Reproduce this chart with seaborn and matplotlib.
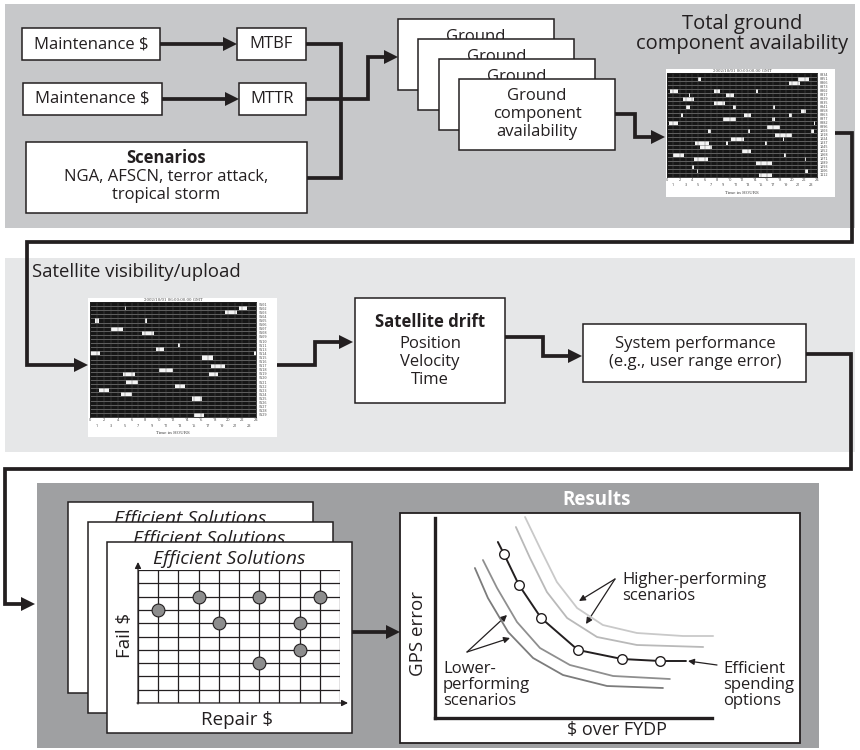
import numpy as np
import matplotlib
matplotlib.use("Agg")
import matplotlib.pyplot as plt
import seaborn as sns
from matplotlib.patches import Rectangle, Polygon
from matplotlib.colors import ListedColormap

### DATA ###
# total ground component availability: outage blocks (row, start hour, length in hours)
gnd_row = [1, 1, 2, 4, 4, 4, 5, 5, 6, 7, 8, 8, 8, 9, 10, 10, 10, 11, 11, 12, 12,
           13, 14, 14, 14, 15, 16, 16, 17, 17, 17, 18, 19, 20, 20, 21, 21, 22, 23, 24, 24, 25]
gnd_start = [5.05, 21.1, 19.4, 0.4, 7.6, 14.3, 3.6, 9.6, 2.5, 7.5, 3.1, 10.4, 16.9, 21.5,
             2.3, 12.15, 19.4, 9.1, 16.7, 0.25, 23.5, 15.95, 6.45, 12.9, 22.9, 17.3, 18.4,
             10.3, 4.55, 9.4, 15.7, 5.25, 12.0, 1.05, 18.7, 4.35, 22.1, 14.3, 4.0, 4.8, 22.0, 14.65]
gnd_len = [0.5, 1.6, 1.85, 1.3, 0.8, 0.25, 0.25, 1.05, 1.85, 1.85, 0.6, 0.6, 0.25, 0.8,
           0.25, 1.3, 0.6, 1.85, 0.6, 1.6, 0.25, 2.1, 0.6, 0.25, 0.6, 2.6, 0.25,
           1.85, 2.1, 0.25, 0.25, 2.1, 1.6, 1.6, 0.25, 2.1, 0.25, 2.4, 0.25, 0.25, 0.6, 2.1]
gnd_sites = ["0834", "0851", "0866", "0873", "0902", "0917", "0929", "0935", "0941",
             "0958", "0963", "0977", "0982", "0996", "1003", "1018", "1024", "1037",
             "1045", "1052", "1068", "1071", "1089", "1093", "1106", "1112"]

# satellite visibility/upload blocks
sat_row = [1, 1, 2, 4, 4, 6, 7, 10, 11, 12, 12, 13, 15, 16, 17, 17, 19, 20, 21, 22, 23, 27]
sat_start = [5.05, 21.6, 19.55, 0.75, 7.95, 2.95, 7.45, 12.8, 9.5, 0.0, 23.75, 16.15,
             17.5, 10.0, 4.7, 17.3, 5.25, 12.3, 1.3, 4.55, 14.8, 15.1]
sat_len = [0.25, 1.2, 1.7, 0.6, 0.25, 1.7, 1.7, 0.25, 1.2, 1.45, 0.25, 1.7,
           1.95, 1.95, 1.7, 1.2, 1.7, 1.45, 1.45, 1.45, 1.45, 1.45]
sat_sites = ["SV01", "SV02", "SV03", "SV04", "SV05", "SV06", "SV07", "SV08", "SV09", "SV10",
             "SV11", "SV13", "SV14", "SV15", "SV16", "SV17", "SV18", "SV19", "SV20", "SV21",
             "SV22", "SV23", "SV24", "SV25", "SV26", "SV27", "SV28", "SV29"]
hours_even = list(range(0, 25, 2))
hours_odd = list(range(1, 24, 2))

# efficient solutions grid (repair $ column, fail $ row)
sol_repair = [1, 3, 4, 6, 6, 8, 8, 9]
sol_fail = [7, 8, 6, 8, 3, 6, 4, 8]

# results: GPS error vs $ over FYDP
high1_x = [3.25, 3.79, 4.40, 5.13, 6.06, 7.29, 8.95, 10.04]
high1_y = [10.05, 8.5, 6.8, 5.5, 4.65, 4.25, 4.1, 4.1]
high2_x = [2.92, 3.43, 4.04, 4.77, 5.85, 7.29, 9.68]
high2_y = [9.55, 8.0, 6.3, 5.0, 4.05, 3.65, 3.55]
eff_x = [2.27, 2.49, 3.03, 3.83, 5.16, 6.75, 8.12, 9.06]
eff_y = [8.8, 8.2, 6.65, 5.0, 3.4, 2.95, 2.85, 2.85]
low1_x = [1.73, 2.24, 2.96, 3.79, 4.87, 6.43, 8.48]
low1_y = [7.9, 6.5, 4.8, 3.5, 2.65, 2.1, 1.95]
low2_x = [1.44, 1.91, 2.64, 3.54, 4.62, 6.21, 8.23]
low2_y = [7.5, 6.0, 4.3, 3.0, 2.15, 1.6, 1.5]

### STYLE ###
sns.set_theme(style="white")
plt.rcParams["font.family"] = ["Open Sans", "DejaVu Sans"]
INK = "#231f20"
BOX_FS = 12
W, H = 860, 750

fig = plt.figure(figsize=(8.6, 7.5), dpi=100)
cv = fig.add_axes([0, 0, 1, 1])
cv.set_xlim(0, W)
cv.set_ylim(H, 0)
cv.axis("off")


def inset(x, y, w, h):
    return fig.add_axes([x / W, 1 - (y + h) / H, w / W, h / H])


def box(x, y, w, h, fc="white", ec=INK, lw=1.1, z=2):
    cv.add_patch(Rectangle((x, y), w, h, fc=fc, ec=ec, lw=lw, zorder=z))


def txt(x, y, s, size=BOX_FS, **kw):
    kw.setdefault("ha", "center")
    kw.setdefault("va", "center")
    kw.setdefault("color", INK)
    kw.setdefault("zorder", 6)
    cv.text(x, y, s, fontsize=size, **kw)


def flow(pts, head=True, lw=2.7, hl=14, hw=7):
    pts = np.array(pts, float)
    if head:
        d = pts[-1] - pts[-2]
        d /= np.linalg.norm(d)
        n = np.array([-d[1], d[0]])
        tip = pts[-1].copy()
        pts[-1] = tip - d * (hl - 1)
        cv.add_patch(Polygon([tip, tip - d * hl + n * hw, tip - d * hl - n * hw],
                             closed=True, fc=INK, ec="none", zorder=5))
    cv.plot(pts[:, 0], pts[:, 1], color=INK, lw=lw, solid_joinstyle="miter",
            solid_capstyle="butt", zorder=4)


def pointer(start, end):
    cv.annotate("", xy=end, xytext=start, zorder=7,
                arrowprops=dict(arrowstyle="-|>", color=INK, lw=0.9, mutation_scale=9,
                                shrinkA=0, shrinkB=0))


def avail_chart(rect, rows, starts, lens, nrows, sites, stamp):
    ax = inset(*rect)
    mat = np.zeros((nrows, 96))
    for r, s, l in zip(rows, starts, lens):
        mat[r, int(round(s * 4)):int(round((s + l) * 4))] = 1
    sns.heatmap(mat, ax=ax, cmap=ListedColormap(["#161616", "#f4f4f4"]), vmin=0, vmax=1,
                cbar=False, xticklabels=False, yticklabels=False)
    ax.hlines(np.arange(1, nrows), 0, 96, color="#8a8a8a", lw=0.45)
    ax.vlines(np.arange(4, 96, 4), 0, nrows, color="#5a5a5a", lw=0.3)
    ax.yaxis.tick_right()
    ax.set_yticks(np.arange(nrows) + 0.5)
    ax.set_yticklabels(sites, fontsize=2.6, color="#555", family="DejaVu Sans Mono")
    ax.tick_params(axis="y", length=0, pad=2)
    for h in hours_even:
        ax.text(h * 4, nrows + 0.8, str(h), fontsize=2.8, ha="center", va="center", color="#444")
    for h in hours_odd:
        ax.text(h * 4, nrows + 2.1, str(h), fontsize=2.8, ha="center", va="center", color="#444")
    ax.text(48, nrows + 4, "Time in HOURS", fontsize=3, ha="center", va="center", color="#444",
            family="DejaVu Serif")
    ax.text(48, -0.5, stamp, fontsize=2.8, ha="center", va="center", color="#444",
            family="DejaVu Serif")
    for sp in ax.spines.values():
        sp.set_visible(True)
        sp.set_color("#222")
        sp.set_linewidth(0.6)
    return ax


### PANELS ###
cv.add_patch(Rectangle((5, 4), 850, 224, fc="#c7c8ca", ec="none", zorder=0))
cv.add_patch(Rectangle((5, 258), 850, 194, fc="#e6e7e8", ec="none", zorder=0))
cv.add_patch(Rectangle((37, 483), 782, 265, fc="#9fa0a2", ec="none", zorder=0))

### TOP PANEL ###
box(22, 28, 138, 32)
txt(91, 44, "Maintenance $")
box(237, 28, 69, 32)
txt(271.5, 44, "MTBF")
box(23, 83, 139, 32)
txt(92.5, 99, "Maintenance $")
box(239, 83, 67, 32)
txt(272.5, 99, "MTTR")
box(26, 142, 281, 71)
txt(166, 158, "Scenarios", weight="bold")
txt(166, 186, "NGA, AFSCN, terror attack,\ntropical storm", linespacing=1.12)

flow([(160, 44), (237, 44)])
flow([(162, 99), (239, 99)])
flow([(306, 44), (341, 44), (341, 178), (307, 178)], head=False)
flow([(306, 99), (368, 99), (368, 57), (398, 57)])

for i in range(4):
    bx, by = 398 + 20.3 * i, 19 + 20 * i
    box(bx, by, 156, 71, z=2 + i * 0.1)
    if i < 3:
        cv.text(bx + 78, by + 18, "Ground", fontsize=BOX_FS, ha="center", va="center",
                color=INK, zorder=2 + i * 0.1 + 0.05)
txt(537, 114, "Ground\ncomponent\navailability", linespacing=1.15)
flow([(615, 114), (635, 114), (635, 137), (665, 137)])

txt(742, 34, "Total ground\ncomponent availability", size=14.5, linespacing=1.0)
box(666, 69, 169, 128, lw=0)
avail_chart((667, 73, 150, 104), gnd_row, gnd_start, gnd_len, 26, gnd_sites,
            "2002/10/01 00:00:00.00 GMT")

flow([(835, 133), (852, 133), (852, 242), (27, 242), (27, 365), (88, 365)])

### MIDDLE PANEL ###
txt(32, 272, "Satellite visibility/upload", size=13.3, ha="left")
box(88, 298, 189, 139, lw=0)
avail_chart((90, 302, 166, 115), sat_row, sat_start, sat_len, 28, sat_sites,
            "2002/10/01 06:00:00.00 GMT")
flow([(277, 365), (315, 365), (315, 342), (353, 342)])

box(355, 298, 150, 105)
txt(430, 322, "Satellite drift", weight="bold")
txt(430, 362, "Position\nVelocity\nTime", linespacing=1.15)
flow([(505, 337), (543, 337), (543, 356), (582, 356)])

box(583, 324, 223, 58)
txt(695, 353, "System performance\n(e.g., user range error)", linespacing=1.12)
flow([(806, 354), (851, 354), (851, 469), (5, 469), (5, 604), (35, 604)])

### BOTTOM PANEL ###
for i in range(3):
    bx, by = 68 + 19.5 * i, 502 + 20 * i
    box(bx, by, 245, 191, z=2 + i * 0.1)
    cv.text(bx + 122, by + 17, "Efficient Solutions", fontsize=14, style="italic",
            ha="center", va="center", color=INK, zorder=2 + i * 0.1 + 0.05)

gax = inset(138, 570, 202, 133)
gax.set_facecolor("none")
sns.scatterplot(x=sol_repair, y=sol_fail, ax=gax, s=85, color="#8d8d8d",
                edgecolor=INK, linewidth=0.8, zorder=5, clip_on=False)
gax.set_xlim(0, 10)
gax.set_ylim(0, 10)
gax.set_xticks(range(11))
gax.set_yticks(range(11))
gax.set_xticklabels([])
gax.set_yticklabels([])
gax.tick_params(length=0)
gax.grid(True, color=INK, lw=0.9)
for sp in gax.spines.values():
    sp.set_visible(False)
pointer((138, 704), (138, 562))
pointer((137, 703), (348, 703))
txt(125, 635, "Fail $", size=13.5, rotation=90)
txt(237, 720, "Repair $", size=13.5)

flow([(352, 632), (400, 632)])

txt(597, 500, "Results", size=13.5, weight="bold", color="white")
box(400, 513, 400, 230, lw=1.3)

rax = inset(435, 518, 277, 200)
rax.set_facecolor("none")
sns.lineplot(x=high1_x, y=high1_y, ax=rax, color="#c9c9c9", lw=1.3, sort=False)
sns.lineplot(x=high2_x, y=high2_y, ax=rax, color="#b9b9b9", lw=1.3, sort=False)
sns.lineplot(x=low1_x, y=low1_y, ax=rax, color="#8f8f8f", lw=1.3, sort=False)
sns.lineplot(x=low2_x, y=low2_y, ax=rax, color="#7c7c7c", lw=1.3, sort=False)
sns.lineplot(x=eff_x, y=eff_y, ax=rax, color=INK, lw=1.4, sort=False)
sns.scatterplot(x=eff_x[1:7], y=eff_y[1:7], ax=rax, s=48, color="white",
                edgecolor=INK, linewidth=1.0, zorder=5)
for ln in rax.lines:
    ln.set_clip_on(False)
for c in rax.collections:
    c.set_clip_on(False)
rax.set_xlim(0, 10)
rax.set_ylim(0, 10)
rax.set_xticks([])
rax.set_yticks([])
for k in ["top", "right"]:
    rax.spines[k].set_visible(False)
for k in ["left", "bottom"]:
    rax.spines[k].set_color(INK)
    rax.spines[k].set_linewidth(2.4)

txt(418, 633, "GPS error", size=13.5, rotation=90)
txt(617, 730, "$ over FYDP", size=13)

txt(622, 588, "Higher-performing\nscenarios", size=12, ha="left", linespacing=1.0)
pointer((615, 579), (579, 601))
pointer((615, 579), (586, 624))
txt(443, 685, "Lower-\nperforming\nscenarios", size=12, ha="left", linespacing=1.0)
pointer((467, 652), (507, 615))
pointer((467, 652), (510, 638))
txt(723, 685, "Efficient\nspending\noptions", size=12, ha="left", linespacing=1.0)
pointer((717, 665), (688, 661))

fig.savefig("out.png", dpi=100)
